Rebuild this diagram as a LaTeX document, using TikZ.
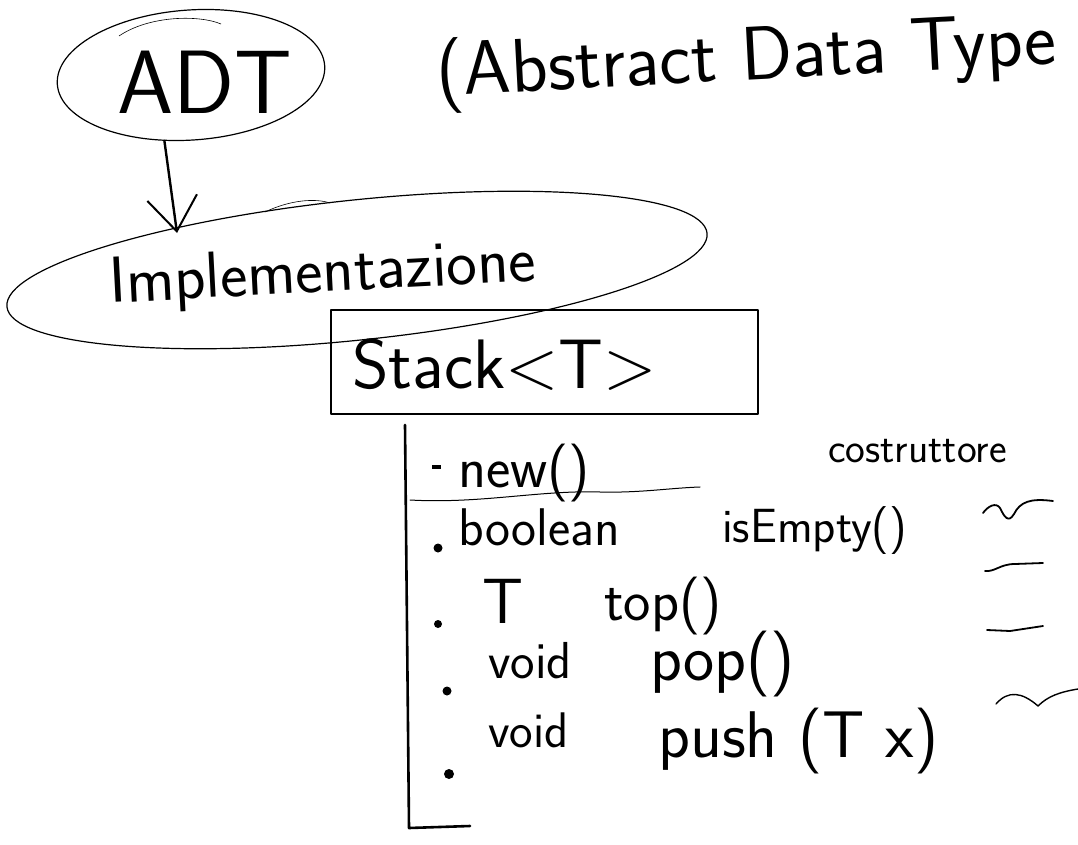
\documentclass[tikz,border=0pt]{standalone}
\usepackage{fontspec}
\usetikzlibrary{shapes.geometric,arrows.meta}
\begin{document}
\begin{tikzpicture}[x=1pt,y=-1pt,
  ink/.style={line width=1.2pt,line cap=round,line join=round},
  pen/.style={line width=2.4pt,line cap=round,line join=round},
  hand/.style={inner sep=0pt,anchor=base west,font=\sffamily\fontsize{#1pt}{#1pt}\selectfont},
  oval/.style={draw,ellipse,ink,inner sep=0pt},
  dot/.style={circle,fill,inner sep=0pt,minimum size=#1}
]
\useasboundingbox (0,0) rectangle (1078,845);
\clip (0,0) rectangle (1078,845);

% --- ADT bubble and its title
\node[oval,minimum width=268,minimum height=130,rotate=4] (adt) at (191,75) {};
\node[hand=90] (adtlabel) at (117,114) {ADT};
\draw[line width=0.6pt] (119,36) .. controls (150,15) and (200,15) .. (221,24);
\node[hand=76,rotate=3] (full) at (437,96) {(Abstract Data Type};

% --- implementation bubble
\node[oval,minimum width=704,minimum height=140,rotate=6] (impl) at (357,270) {};
\draw[line width=0.6pt] (265,212) .. controls (290,200) and (315,198) .. (330,203);
\node[hand=65,rotate=3] (impllabel) at (110,303) {Implementazione};
\coordinate (tip) at (177,233);
\draw[pen,-{Straight Barb[length=34pt,width=50pt,line width=2pt]}] (adt.244) -- (tip);

% --- class box
\node[draw,pen,minimum width=427,minimum height=104,anchor=north west,inner sep=0pt] (stack) at (330,309) {};
\node[hand=70] (stacklabel) at (352,388) {Stack<T>};

% --- member bracket
\coordinate (brtop) at (405,425);
\coordinate (brbot) at (409,828);
\coordinate (brend) at (470,826);
\draw[line width=2.6pt,line cap=round,line join=round] (brtop) -- (brbot) -- (brend);

% --- constructor
\draw[line width=3.5pt] (432,467) -- (441,467);
\node[hand=58] (new) at (458,487) {new()};
\node[hand=42] (ctor) at (828,462) {costruttore};
\draw[ink,line width=1pt] (410,500) .. controls (480,504) and (540,490) .. (600,492) .. controls (640,493) and (670,488) .. (700,487);

% --- operations
\node[dot=9] (b1) at (438,548) {};
\node[hand=53] (boolean) at (458,545) {boolean};
\node[hand=48] (isempty) at (722,542) {isEmpty()};

\node[dot=8] (b2) at (438,624) {};
\node[hand=64] (ttype) at (482,623) {T};
\node[hand=58] (top) at (604,620) {top()};

\node[dot=9] (b3) at (447,691) {};
\node[hand=52] (void1) at (488,678) {void};
\node[hand=66] (pop) at (650,680) {pop()};

\node[dot=10] (b4) at (449,774) {};
\node[hand=50] (void2) at (488,747) {void};
\node[hand=66] (push) at (658,757) {push (T x)};

% --- side marks
\draw[pen,line width=1.8pt] (983,513) .. controls (988,506) and (996,502) .. (1000,508)
  .. controls (1004,516) and (1008,524) .. (1014,514) .. controls (1020,502) and (1030,498) .. (1053,501);
\draw[pen,line width=1.8pt] (985,571) .. controls (995,572) and (1000,564) .. (1015,564) -- (1043,563);
\draw[pen,line width=1.8pt] (987,630) -- (1010,631) -- (1043,626);
\draw[ink,line width=1.4pt] (996,704) .. controls (1008,690) and (1022,692) .. (1038,706)
  .. controls (1048,696) and (1060,692) .. (1078,689);
\end{tikzpicture}
\end{document}
